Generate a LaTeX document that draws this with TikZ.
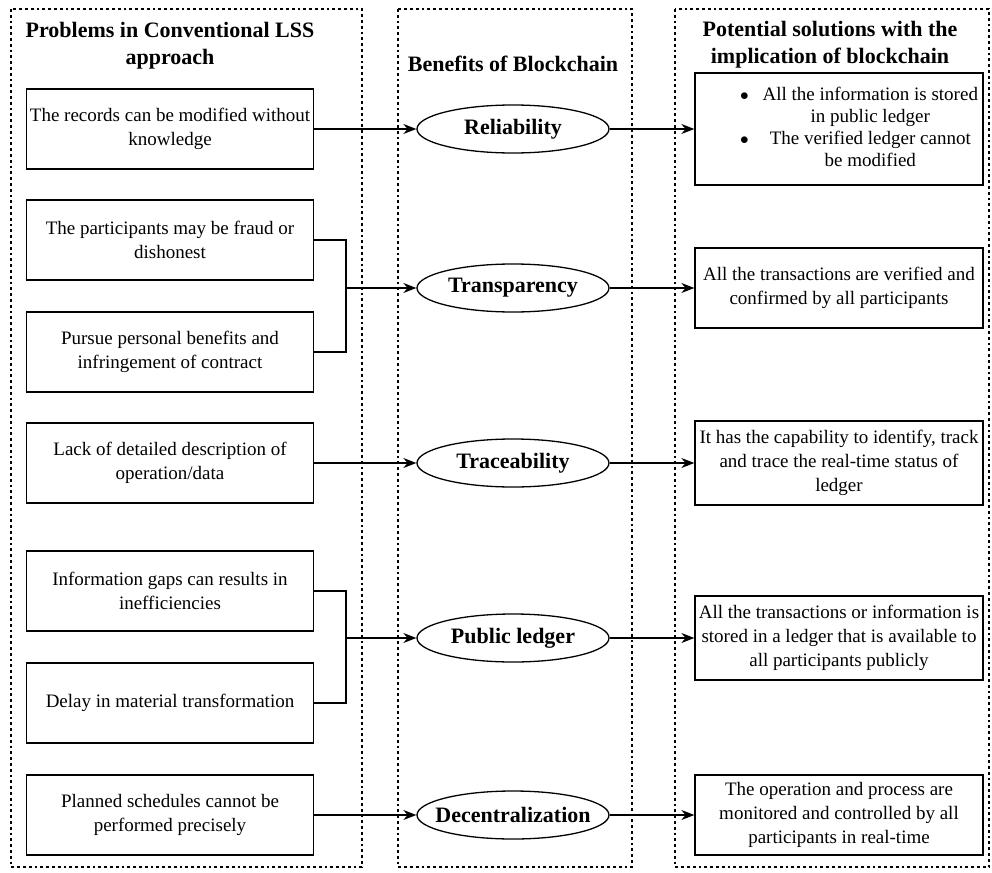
\documentclass[tikz,border=0pt]{standalone}
\usepackage{fontspec}
\setmainfont{Liberation Serif}
\usetikzlibrary{shapes.geometric,arrows.meta}
\tikzset{
  frame/.style={line width=2.8pt,dash pattern=on 2.8pt off 3pt},
  probbox/.style={draw,line width=1.3pt,minimum width=287pt,minimum height=80pt,align=center,
    inner sep=2pt,font=\fontsize{19}{24}\selectfont},
  solbox/.style={probbox,minimum width=288pt},
  benefit/.style={draw,ellipse,line width=1.3pt,minimum width=192pt,minimum height=48pt,
    inner sep=1pt,font=\fontsize{22}{27}\selectfont\bfseries,
    execute at begin node={\hbox to 0pt\bgroup\hss},execute at end node={\hss\egroup}},
  head/.style={align=center,font=\fontsize{22}{27}\selectfont\bfseries},
  arr/.style={line width=1.3pt,-{Stealth[length=13pt,width=10pt]}},
  link/.style={line width=1.3pt}
}
\begin{document}
\begin{tikzpicture}[x=1pt,y=-1pt]
\useasboundingbox (0,0) rectangle (992,872);
% dotted columns
\draw[frame] (11,9) rectangle (362,867);
\draw[frame] (398,9) rectangle (632,867);
\draw[frame] (675,9) rectangle (989,867);
% headers
\node[head] (h1) at (170,46) {Problems in Conventional LSS\\approach};
\node[head] (h2) at (513,64) {Benefits of Blockchain};
\node[head] (h3) at (830,45) {Potential solutions with the\\implication of blockchain};
% problems
\node[probbox] (p1) at (170,129) {The records can be modified without\\knowledge};
\node[probbox] (p2) at (170,240) {The participants may be fraud or\\dishonest};
\node[probbox] (p3) at (170,352) {Pursue personal benefits and\\infringement of contract};
\node[probbox] (p4) at (170,463) {Lack of detailed description of\\operation/data};
\node[probbox] (p5) at (170,591) {Information gaps can results in\\inefficiencies};
\node[probbox] (p6) at (170,703) {Delay in material transformation};
\node[probbox] (p7) at (170,815) {Planned schedules cannot be\\performed precisely};
% benefits
\node[benefit] (b1) at (513,129) {Reliability};
\node[benefit] (b2) at (513,288) {Transparency};
\node[benefit] (b3) at (513,463) {Traceability};
\node[benefit] (b4) at (513,638) {Public ledger};
\node[benefit] (b5) at (513,815) {Decentralization};
% solutions
\node[solbox,minimum height=112pt] (s1) at (839,129) {%
  \renewcommand{\arraystretch}{0.92}%
  \begin{tabular}{@{\hspace{40pt}}c@{\hspace{14pt}}c@{}}
  $\bullet$ & All the information is stored\\
            & in public ledger\\
  $\bullet$ & The verified ledger cannot\\
            & be modified
  \end{tabular}};
\node[solbox] (s2) at (839,288) {All the transactions are verified and\\confirmed by all participants};
\node[solbox,minimum height=84pt] (s3) at (839,463) {It has the capability to identify, track\\and trace the real-time status of\\ledger};
\node[solbox,minimum height=84pt] (s4) at (839,638) {All the transactions or information is\\stored in a ledger that is available to\\all participants publicly};
\node[solbox] (s5) at (839,815) {The operation and process are\\monitored and controlled by all\\participants in real-time};
% joins
\coordinate (j2) at (346,288);
\coordinate (j4) at (346,638);
\draw[link] (p2.east) -| (j2) |- (p3.east);
\draw[link] (p5.east) -| (j4) |- (p6.east);
% arrows
\draw[arr] (p1) -- (b1);
\draw[arr] (j2) -- (b2);
\draw[arr] (p4) -- (b3);
\draw[arr] (j4) -- (b4);
\draw[arr] (p7) -- (b5);
\draw[arr] (b1) -- (s1);
\draw[arr] (b2) -- (s2);
\draw[arr] (b3) -- (s3);
\draw[arr] (b4) -- (s4);
\draw[arr] (b5) -- (s5);
\end{tikzpicture}
\end{document}
